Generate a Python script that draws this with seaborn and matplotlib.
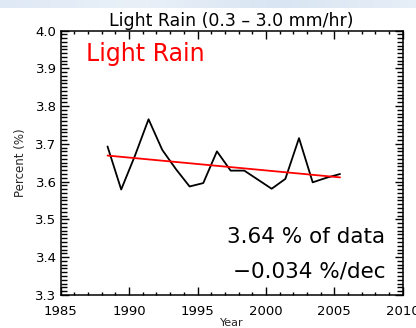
import numpy as np
import pandas as pd
import matplotlib
matplotlib.use("Agg")
import matplotlib.pyplot as plt
import seaborn as sns
from matplotlib.ticker import MultipleLocator

# Annual fraction of light-rain observations (0.3 - 3.0 mm/hr)
years = list(range(1988, 2006))
percent = [3.693, 3.579, 3.668, 3.765, 3.684, 3.633, 3.587, 3.596, 3.680,
           3.629, 3.629, 3.605, 3.581, 3.607, 3.715, 3.598, 3.610, 3.620]
mean_percent = 3.64          # "% of data"
trend_per_decade = -0.034    # "%/dec"
x_ticks = [1985, 1990, 1995, 2000, 2005, 2010]
y_ticks = [3.3, 3.4, 3.5, 3.6, 3.7, 3.8, 3.9, 4.0]

# annual values are plotted at the middle of each year
year_centre = 0.42

sns.set_theme(style="ticks")
plt.rcParams["font.family"] = ["DejaVu Sans"]

df = pd.DataFrame({"year": np.array(years) + year_centre, "percent": percent})
t = df["year"].to_numpy()
t_mid = t.mean()
trend = pd.DataFrame({
    "year": [t[0], t[-1]],
    "percent": [mean_percent + trend_per_decade / 10 * (t[0] - t_mid),
                mean_percent + trend_per_decade / 10 * (t[-1] - t_mid)],
})

fig = plt.figure(figsize=(4.16, 3.28), dpi=100, facecolor="white")
# pale sky-blue strip along the top edge
band = fig.add_axes([0, 0.975, 1, 0.025])
band.imshow(np.linspace(0, 1, 50).reshape(1, -1), aspect="auto",
            cmap=matplotlib.colors.LinearSegmentedColormap.from_list(
                "sky", ["#dfe9f5", "#e9f0f8", "#d9e5f3", "#e6eef7"]))
band.axis("off")

ax = fig.add_axes([0.146, 0.101, 0.822, 0.806])
ax.set_facecolor("white")

sns.lineplot(data=df, x="year", y="percent", ax=ax, color="black", lw=1.3)
sns.lineplot(data=trend, x="year", y="percent", ax=ax, color="#ff0000", lw=1.3)

ax.set_xlim(1985, 2010)
ax.set_ylim(3.3, 4.0)
ax.set_xticks(x_ticks)
ax.set_yticks(y_ticks)
ax.set_yticklabels([f"{v:.1f}" for v in y_ticks])
ax.xaxis.set_minor_locator(MultipleLocator(1))
ax.yaxis.set_minor_locator(MultipleLocator(0.01))
ax.tick_params(axis="both", which="both", direction="in", top=True, right=True,
               color="black", width=1.0, labelsize=9.5, labelcolor="black")
ax.tick_params(axis="x", which="major", length=6, pad=7)
ax.tick_params(axis="x", which="minor", length=2.5)
ax.tick_params(axis="y", which="major", length=6, pad=3)
ax.tick_params(axis="y", which="minor", length=4)
for s in ax.spines.values():
    s.set_color("black")
    s.set_linewidth(1.1)

ax.set_xlabel("Year", fontsize=8, labelpad=0)
ax.set_ylabel("Percent (%)", fontsize=8.5, labelpad=6)
ax.set_title("Light Rain (0.3 \u2013 3.0 mm/hr)", fontsize=12.5, pad=3, color="black")

ax.text(0.075, 0.955, "Light Rain", transform=ax.transAxes, color="#ff0000",
        fontsize=17, ha="left", va="top")
ax.text(0.95, 0.197, f"{mean_percent:.2f} % of data", transform=ax.transAxes,
        fontsize=15.5, ha="right", va="baseline", color="black")
ax.text(0.95, 0.064, f"\u2212{abs(trend_per_decade):.3f} %/dec", transform=ax.transAxes,
        fontsize=15.5, ha="right", va="baseline", color="black")

fig.savefig("out.png", dpi=100, facecolor="white")
